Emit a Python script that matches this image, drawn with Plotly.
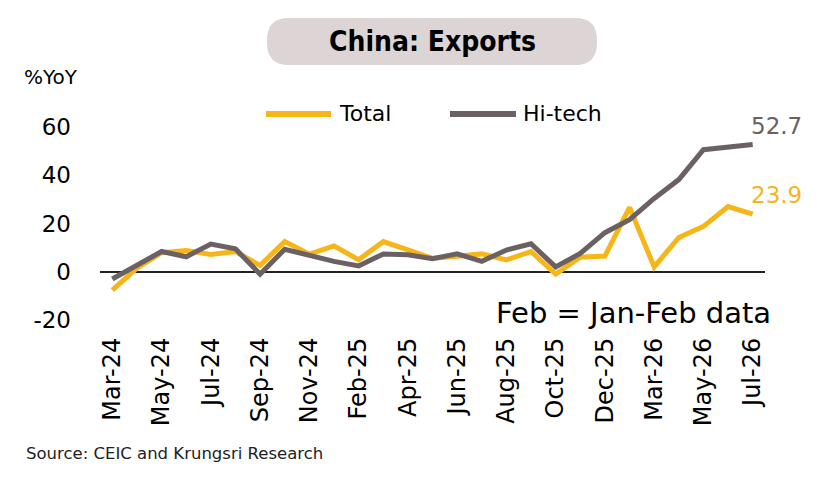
import plotly.graph_objects as go

# monthly data, Jan is folded into Feb (Jan-Feb)
months = ["Mar-24", "Apr-24", "May-24", "Jun-24", "Jul-24", "Aug-24", "Sep-24",
          "Oct-24", "Nov-24", "Dec-24", "Feb-25", "Mar-25", "Apr-25", "May-25",
          "Jun-25", "Jul-25", "Aug-25", "Sep-25", "Oct-25", "Nov-25", "Dec-25",
          "Feb-26", "Mar-26", "Apr-26", "May-26", "Jun-26", "Jul-26"]
total = [-7.6, 1.5, 7.9, 8.8, 7.2, 8.4, 2.6, 12.5, 7.3, 10.7, 5.0, 12.5, 9.1, 5.6,
         6.4, 7.4, 4.9, 8.4, -1.0, 6.0, 6.5, 26.7, 2.0, 14.2, 18.8, 27.0, 23.9]
hitech = [-3.0, 2.8, 8.4, 6.2, 11.5, 9.5, -1.0, 9.3, 6.6, 4.3, 2.4, 7.4, 7.0, 5.4,
          7.4, 4.3, 9.0, 11.6, 2.0, 7.6, 16.2, 21.6, 30.4, 38.2, 50.6, 51.8, 52.7]
tick_months = months[::2]
y_ticks = [-20, 0, 20, 40, 60]
y_labels = ["-20", "0", "20", "40", "60"]

YELLOW = "#F6B519"
GRAY = "#6C6162"
OFF = 8  # page body margin
W, H = 840 - OFF, 483 - OFF
L, R, T, B = 100 - OFF, 75, 127 - OFF, 163
PW, PH = W - L - R, H - T - B


def px(x):
    return (x - OFF - L) / PW


def py(y):
    return (H - B - (y - OFF)) / PH


fig = go.Figure()
fig.add_trace(go.Scatter(x=months, y=total, mode="lines", name="Total",
                         line=dict(color=YELLOW, width=5)))
fig.add_trace(go.Scatter(x=months, y=hitech, mode="lines", name="Hi-tech",
                         line=dict(color=GRAY, width=5)))

# title pill
x0, x1, y0, y1, r = 267, 597, 18, 65, 22
path = (f"M {px(x0 + r)},{py(y0)} L {px(x1 - r)},{py(y0)} "
        f"Q {px(x1)},{py(y0)} {px(x1)},{py(y0 + r)} L {px(x1)},{py(y1 - r)} "
        f"Q {px(x1)},{py(y1)} {px(x1 - r)},{py(y1)} L {px(x0 + r)},{py(y1)} "
        f"Q {px(x0)},{py(y1)} {px(x0)},{py(y1 - r)} L {px(x0)},{py(y0 + r)} "
        f"Q {px(x0)},{py(y0)} {px(x0 + r)},{py(y0)} Z")
fig.add_shape(type="path", path=path, xref="paper", yref="paper",
              fillcolor="#DDD5D5", line=dict(width=0), layer="below")

# legend drawn by hand
for xa, xb, col in [(266, 331, YELLOW), (450, 516, GRAY)]:
    fig.add_shape(type="line", xref="paper", yref="paper",
                  x0=px(xa), x1=px(xb), y0=py(114), y1=py(114),
                  line=dict(color=col, width=6))

fnt = "DejaVu Sans"
ann = [
    dict(x=px(432), y=py(41), text="<b>China: Exports</b>",
         font=dict(family="DejaVu Sans Condensed, DejaVu Sans", size=28, color="black")),
    dict(x=px(22), y=py(77), text="%YoY", xanchor="left",
         font=dict(family=fnt, size=20, color="black")),
    dict(x=px(337), y=py(113), text="Total", xanchor="left",
         font=dict(family=fnt, size=22, color="black")),
    dict(x=px(521), y=py(113), text="Hi-tech", xanchor="left",
         font=dict(family=fnt, size=22, color="black")),
    dict(x=px(773), y=py(313), text="Feb = Jan-Feb data", xanchor="right",
         font=dict(family=fnt, size=29, color="black")),
    dict(x=px(24), y=py(453), text="Source: CEIC and Krungsri Research", xanchor="left",
         font=dict(family=fnt, size=16.5, color="#222")),
]
for a in ann:
    a.setdefault("xanchor", "center")
    fig.add_annotation(xref="paper", yref="paper", showarrow=False, yanchor="middle", **a)

# end-point labels
for vals, col in [(hitech, GRAY), (total, YELLOW)]:
    fig.add_annotation(x=months[-1], y=vals[-1], text=f"{vals[-1]}", showarrow=False,
                       xanchor="left", yanchor="middle", xshift=-4, yshift=19,
                       font=dict(family=fnt, size=23, color=col))

fig.update_layout(
    width=W, height=H, margin=dict(l=L, r=R, t=T, b=B),
    paper_bgcolor="white", plot_bgcolor="white", showlegend=False,
    xaxis=dict(type="category", range=[-0.5, len(months) - 0.5],
               tickvals=tick_months, ticktext=tick_months, tickangle=-90,
               showgrid=False, showline=False, ticks="", ticklabelstandoff=12,
               tickfont=dict(family=fnt, size=24, color="black")),
    yaxis=dict(range=[-20, 60], tickvals=y_ticks, ticktext=y_labels, showgrid=False,
               zeroline=True, zerolinecolor="#222", zerolinewidth=1.5,
               showline=False, ticks="", ticklabelstandoff=28,
               tickfont=dict(family=fnt, size=23, color="black")),
)

fig.write_html("out.html")
